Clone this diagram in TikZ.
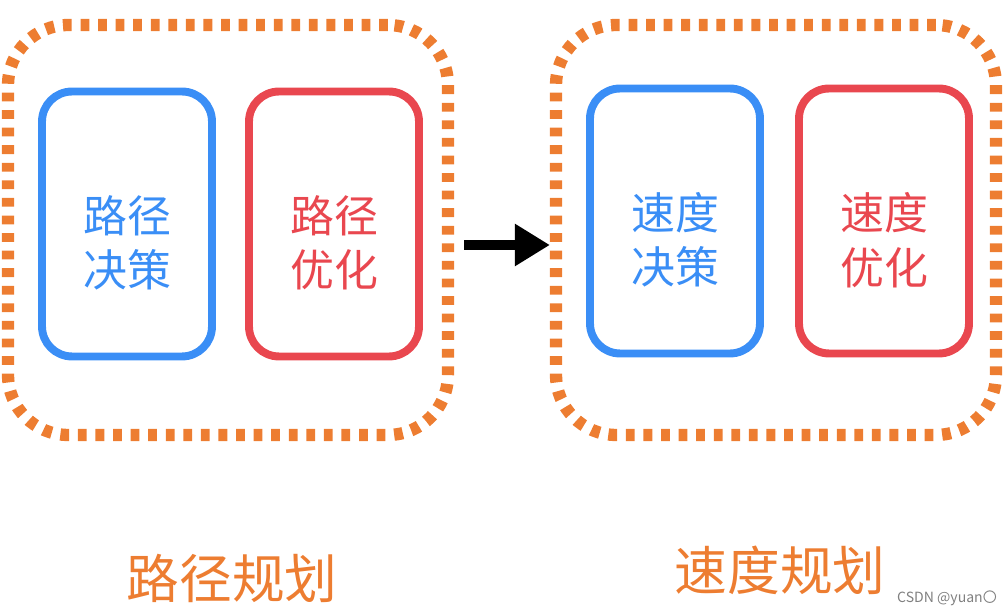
\documentclass[tikz,border=0pt]{standalone}
\usepackage{fontspec}
\setmainfont{Noto Sans CJK SC}
\usetikzlibrary{arrows.meta}
\definecolor{planblue}{HTML}{3A8EF6}
\definecolor{planred}{HTML}{E9474F}
\definecolor{planorange}{HTML}{ED7D31}
\begin{document}
\begin{tikzpicture}[x=0.02cm,y=-0.02cm]
  \tikzstyle{stage}=[draw=planorange,line width=7pt,dash pattern=on 5pt off 5pt,rounded corners=1.2cm,minimum width=8.8cm,minimum height=8.2cm]
  \tikzstyle{task}=[rounded corners=0.6cm,line width=4.5pt,minimum width=3.4cm,minimum height=5.3cm]
  \tikzstyle{tasktext}=[align=center,font=\fontsize{25pt}{31pt}\selectfont]
  \tikzstyle{title}=[text=planorange,font=\fontsize{30pt}{34pt}\selectfont]
  \useasboundingbox (0,0) rectangle (1004,614);

  \node[stage] (path) at (228,230) {};
  \node[stage] (speed) at (776,230) {};

  \node[task,draw=planblue] (pathdec) at (127,224) {};
  \node[tasktext,text=planblue] at (127,243) {路径\\决策};
  \node[task,draw=planred] (pathopt) at (334,224) {};
  \node[tasktext,text=planred] at (334,243) {路径\\优化};
  \node[task,draw=planblue] (speeddec) at (675,221) {};
  \node[tasktext,text=planblue] at (675,240) {速度\\决策};
  \node[task,draw=planred] (speedopt) at (884,221) {};
  \node[tasktext,text=planred] at (884,240) {速度\\优化};

  \draw[line width=6pt,-{Triangle[length=0.7cm,width=0.8cm]},shorten <=0.2cm] (path.east |- 0,245) -- (speed.west |- 0,245);

  \node[title] (pathtitle) at (232,578) {路径规划};
  \node[title] (speedtitle) at (780,570) {速度规划};
  \node[text=gray,font=\fontsize{8pt}{9pt}\selectfont] (mark) at (947,598) {CSDN @yuan〇};
\end{tikzpicture}
\end{document}
